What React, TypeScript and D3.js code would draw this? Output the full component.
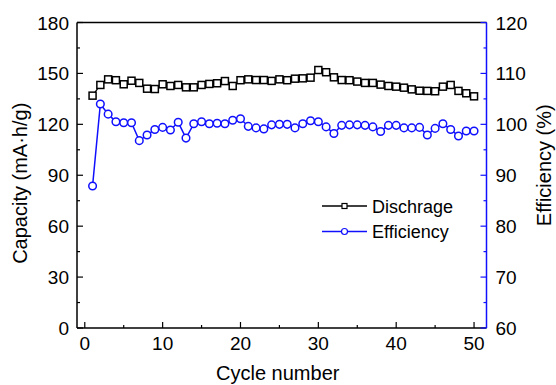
import React from "react";
import * as d3 from "d3";

const cycles = d3.range(1, 51);
const discharge = [
  136.9, 143.2, 146.5, 146.0, 143.6, 145.7, 144.4, 141.0, 140.8, 143.6,
  142.6, 143.2, 141.8, 141.8, 143.2, 143.8, 144.2, 145.5, 142.6, 146.0,
  146.5, 146.1, 146.1, 145.6, 146.5, 146.0, 146.9, 147.1, 147.5, 152.0,
  150.7, 147.7, 146.1, 146.0, 145.2, 144.4, 144.4, 143.4, 142.6, 142.2,
  141.6, 140.6, 139.8, 139.7, 139.5, 142.2, 143.2, 139.7, 138.3, 136.5,
];
const efficiency = [
  87.9, 104.0, 102.0, 100.5, 100.3, 100.3, 96.8, 97.9, 99.0, 99.4,
  98.9, 100.4, 97.3, 100.1, 100.5, 100.1, 100.2, 100.1, 100.8, 101.1,
  99.6, 99.3, 99.1, 99.9, 100.0, 100.0, 99.3, 100.1, 100.7, 100.5,
  99.5, 98.2, 99.8, 99.9, 99.9, 99.8, 99.5, 98.6, 99.8, 99.8,
  99.3, 99.3, 99.4, 97.9, 99.2, 100.1, 99.0, 97.7, 98.7, 98.7,
];
const xTicks = [0, 10, 20, 30, 40, 50];
const yLeftTicks = [0, 30, 60, 90, 120, 150, 180];
const yRightTicks = [60, 70, 80, 90, 100, 110, 120];
const legendLabels = ["Dischrage", "Efficiency"];

const W = 556, H = 385;
const L = 77, R = 486.5, T = 22.5, B = 328;
const BLUE = "#1010ff";
const FONT = "'Liberation Sans', Arial, sans-serif";

export default function App() {
  const x = d3.scaleLinear().domain([-1, 51.6]).range([L, R]);
  const yL = d3.scaleLinear().domain([0, 180]).range([B, T]);
  const yR = d3.scaleLinear().domain([60, 120]).range([B, T]);
  const lineD = d3.line<number>().x((_, i) => x(cycles[i])).y((d) => yL(d));
  const lineE = d3.line<number>().x((_, i) => x(cycles[i])).y((d) => yR(d));
  const xMinor = d3.range(5, 51, 10);
  const yLMinor = d3.range(15, 180, 30);
  const yRMinor = d3.range(65, 120, 10);
  const sq = 7;

  return (
    <svg width={W} height={H} style={{ position: "absolute", left: 0, top: 0 }} fontFamily={FONT}>
      <rect width={W} height={H} fill="white" />
      {/* frame */}
      <line x1={L} x2={R} y1={T} y2={T} stroke="black" strokeWidth={1.5} />
      <line x1={L} x2={R} y1={B} y2={B} stroke="black" strokeWidth={1.5} />
      <line x1={L} x2={L} y1={T} y2={B} stroke="black" strokeWidth={1.5} />
      <line x1={R} x2={R} y1={T} y2={B} stroke={BLUE} strokeWidth={1.5} />
      {/* bottom ticks */}
      {xTicks.map((t) => (
        <g key={"xt" + t}>
          <line x1={x(t)} x2={x(t)} y1={B} y2={B - 6} stroke="black" strokeWidth={1.2} />
          <text x={x(t)} y={B + 22} textAnchor="middle" fontSize={19}>{t}</text>
        </g>
      ))}
      {xMinor.map((t) => (
        <line key={"xm" + t} x1={x(t)} x2={x(t)} y1={B} y2={B - 3} stroke="black" strokeWidth={1.2} />
      ))}
      {/* left ticks */}
      {yLeftTicks.map((t) => (
        <g key={"yl" + t}>
          <line x1={L} x2={L + 6} y1={yL(t)} y2={yL(t)} stroke="black" strokeWidth={1.2} />
          <text x={L - 8} y={yL(t) + 7} textAnchor="end" fontSize={19}>{t}</text>
        </g>
      ))}
      {yLMinor.map((t) => (
        <line key={"ylm" + t} x1={L} x2={L + 3} y1={yL(t)} y2={yL(t)} stroke="black" strokeWidth={1.2} />
      ))}
      {/* right ticks */}
      {yRightTicks.map((t) => (
        <g key={"yr" + t}>
          <line x1={R} x2={R - 6} y1={yR(t)} y2={yR(t)} stroke={BLUE} strokeWidth={1.2} />
          <text x={R + 9} y={yR(t) + 7} textAnchor="start" fontSize={19}>{t}</text>
        </g>
      ))}
      {yRMinor.map((t) => (
        <line key={"yrm" + t} x1={R} x2={R - 3} y1={yR(t)} y2={yR(t)} stroke={BLUE} strokeWidth={1.2} />
      ))}
      {/* axis titles */}
      <text x={W / 2 - 0} y={380} textAnchor="middle" fontSize={20}>
        <tspan x={(L + R) / 2 - 4}>Cycle number</tspan>
      </text>
      <text transform={`translate(27,${(T + B) / 2 + 8}) rotate(-90)`} textAnchor="middle" fontSize={20}>
        Capacity (mA·h/g)
      </text>
      <text transform={`translate(551,${(T + B) / 2 - 10}) rotate(-90)`} textAnchor="middle" fontSize={20}>
        Efficiency (%)
      </text>
      {/* series */}
      <path d={lineD(discharge) || ""} fill="none" stroke="black" strokeWidth={1.3} />
      {discharge.map((v, i) => (
        <rect key={"d" + i} x={x(cycles[i]) - sq / 2} y={yL(v) - sq / 2} width={sq} height={sq}
          fill="white" stroke="black" strokeWidth={1.5} />
      ))}
      <path d={lineE(efficiency) || ""} fill="none" stroke={BLUE} strokeWidth={1.5} />
      {efficiency.map((v, i) => (
        <circle key={"e" + i} cx={x(cycles[i])} cy={yR(v)} r={3.8} fill="white" stroke={BLUE} strokeWidth={1.5} />
      ))}
      {/* legend */}
      <g>
        <line x1={322} x2={367} y1={206} y2={206} stroke="black" strokeWidth={1.3} />
        <rect x={344.5 - 2.5} y={206 - 2.5} width={5} height={5} fill="white" stroke="black" strokeWidth={1.2} />
        <text x={372} y={212.5} fontSize={18}>{legendLabels[0]}</text>
        <line x1={322} x2={367} y1={231.5} y2={231.5} stroke={BLUE} strokeWidth={1.3} />
        <circle cx={344.5} cy={231.5} r={3} fill="white" stroke={BLUE} strokeWidth={1.2} />
        <text x={372} y={238} fontSize={18}>{legendLabels[1]}</text>
      </g>
    </svg>
  );
}
